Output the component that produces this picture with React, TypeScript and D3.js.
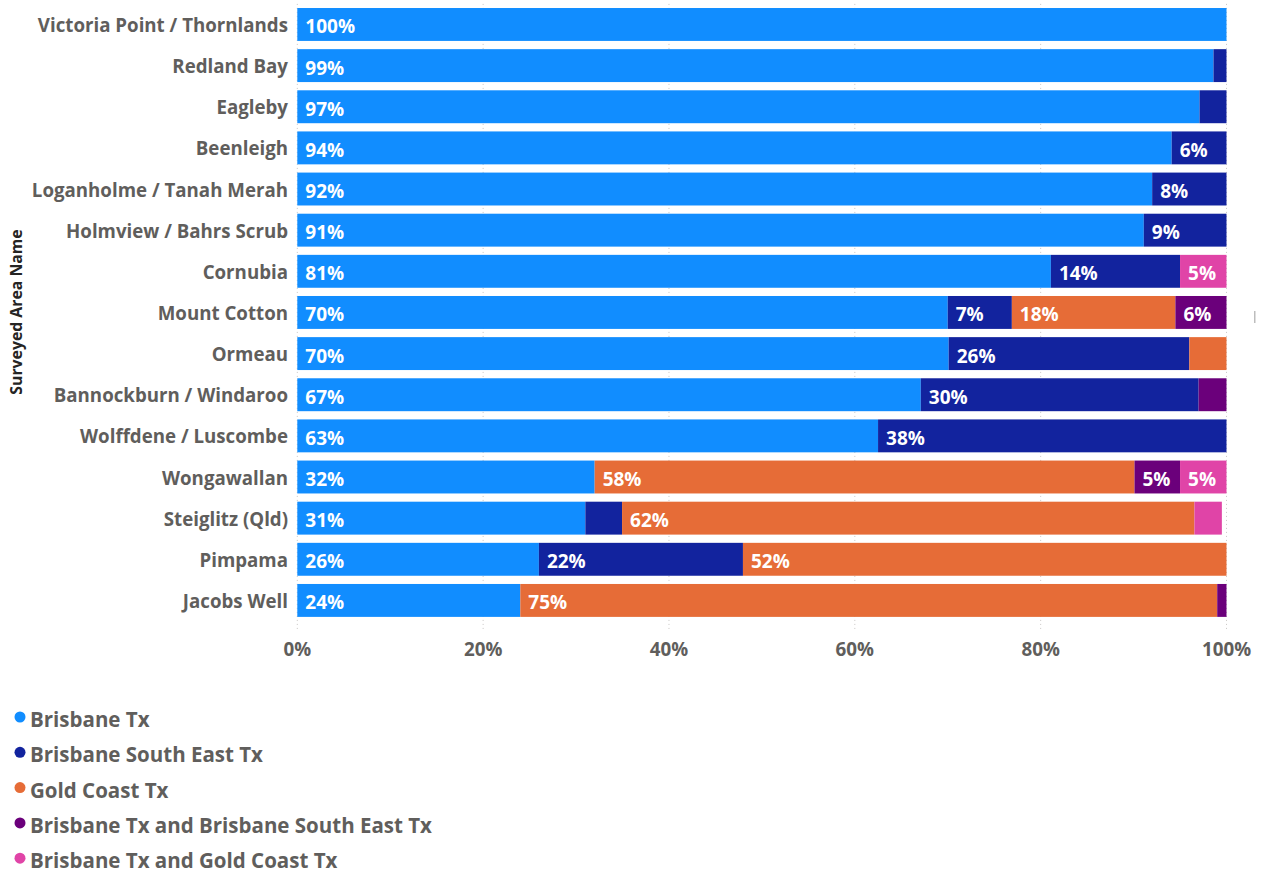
import React from "react";
import * as d3 from "d3";

const categories = [
  "Victoria Point / Thornlands",
  "Redland Bay",
  "Eagleby",
  "Beenleigh",
  "Loganholme / Tanah Merah",
  "Holmview / Bahrs Scrub",
  "Cornubia",
  "Mount Cotton",
  "Ormeau",
  "Bannockburn / Windaroo",
  "Wolffdene / Luscombe",
  "Wongawallan",
  "Steiglitz (Qld)",
  "Pimpama",
  "Jacobs Well",
];

const seriesNames = [
  "Brisbane Tx",
  "Brisbane South East Tx",
  "Gold Coast Tx",
  "Brisbane Tx and Brisbane South East Tx",
  "Brisbane Tx and Gold Coast Tx",
];

const seriesColors = ["#118DFF", "#12239E", "#E66C37", "#6B007B", "#E044A7"];

const brisbaneTx = [100, 98.6, 97.1, 94.1, 92.0, 91.1, 81.1, 70.0, 70.1, 67.1, 62.5, 32.0, 31.0, 26.0, 24.0];
const brisbaneSouthEastTx = [0, 1.4, 2.9, 5.9, 8.0, 8.9, 13.9, 6.9, 25.9, 29.9, 37.5, 0, 3.95, 21.96, 0];
const goldCoastTx = [0, 0, 0, 0, 0, 0, 0, 17.6, 4.0, 0, 0, 58.1, 61.6, 52.04, 75.0];
const brisbaneAndBSETx = [0, 0, 0, 0, 0, 0, 0, 5.5, 0, 3.0, 0, 4.9, 0, 0, 1.0];
const brisbaneAndGCTx = [0, 0, 0, 0, 0, 0, 5.0, 0, 0, 0, 0, 5.0, 2.95, 0, 0];

const xTicks = [0, 20, 40, 60, 80, 100];
const axisTitle = "Surveyed Area Name";

const seriesValues = [brisbaneTx, brisbaneSouthEastTx, goldCoastTx, brisbaneAndBSETx, brisbaneAndGCTx];

const FONT = "'Open Sans', 'Noto Sans', sans-serif";

export default function App() {
  const width = 1264;
  const height = 876;
  const x = d3.scaleLinear().domain([0, 100]).range([297.3, 1226.5]);
  const y = d3.scaleBand<string>().domain(categories).range([3.9, 621]).paddingInner(0.2).paddingOuter(0.1);

  const rows = categories.map((c, i) => {
    const obj: any = { cat: c };
    seriesNames.forEach((s, j) => (obj[s] = seriesValues[j][i]));
    return obj;
  });
  const stacked = d3.stack<any>().keys(seriesNames)(rows);

  const gridTop = y.range()[0];
  const gridBottom = 630;

  return (
    <svg
      width={width}
      height={height}
      style={{ position: "absolute", left: 0, top: 0, background: "#fff" }}
      fontFamily={FONT}
    >
      {/* gridlines */}
      {xTicks.map((t) => (
        <line
          key={"g" + t}
          x1={x(t)}
          x2={x(t)}
          y1={gridTop}
          y2={gridBottom}
          stroke="#C8C6C4"
          strokeWidth={1}
          strokeDasharray="1,3"
        />
      ))}
      {/* bars */}
      {stacked.map((layer, si) => (
        <g key={layer.key} fill={seriesColors[si]}>
          {layer.map((d, i) => {
            const v = d[1] - d[0];
            if (v <= 0) return null;
            const x0 = x(d[0]);
            const x1 = x(d[1]);
            const yy = y(categories[i])!;
            return (
              <g key={i}>
                <rect x={x0} y={yy} width={x1 - x0} height={y.bandwidth()} />
                {v >= 4.5 && (
                  <text
                    x={x0 + 8}
                    y={yy + y.bandwidth() / 2 + 2}
                    dominantBaseline="central"
                    fill="#fff"
                    fontSize={19}
                    fontWeight={700}
                  >
                    {Math.round(v) + "%"}
                  </text>
                )}
              </g>
            );
          })}
        </g>
      ))}
      {/* category labels */}
      {categories.map((c) => (
        <text
          key={c}
          x={288}
          y={y(c)! + y.bandwidth() / 2}
          textAnchor="end"
          dominantBaseline="central"
          fill="#605E5C"
          fontSize={18.7}
          fontWeight={700}
        >
          {c}
        </text>
      ))}
      {/* axis title */}
      <text
        transform={`translate(22, 312) rotate(-90)`}
        textAnchor="middle"
        fill="#252423"
        fontSize={15.8}
        fontWeight={700}
      >
        {axisTitle}
      </text>
      {/* x tick labels */}
      {xTicks.map((t) => (
        <text
          key={"t" + t}
          x={x(t)}
          y={649}
          textAnchor="middle"
          dominantBaseline="central"
          fill="#605E5C"
          fontSize={18.8}
          fontWeight={700}
        >
          {t + "%"}
        </text>
      ))}
      {/* legend */}
      {seriesNames.map((s, i) => (
        <g key={s} transform={`translate(0, ${719 + i * 35.3})`}>
          <circle cx={20} cy={-2} r={5.5} fill={seriesColors[i]} />
          <text x={30} y={0} dominantBaseline="central" fill="#605E5C" fontSize={20.5} fontWeight={700}>
            {s}
          </text>
        </g>
      ))}
      <rect x={1254} y={311} width={1.5} height={12} fill="#BDBDBD" />
    </svg>
  );
}
